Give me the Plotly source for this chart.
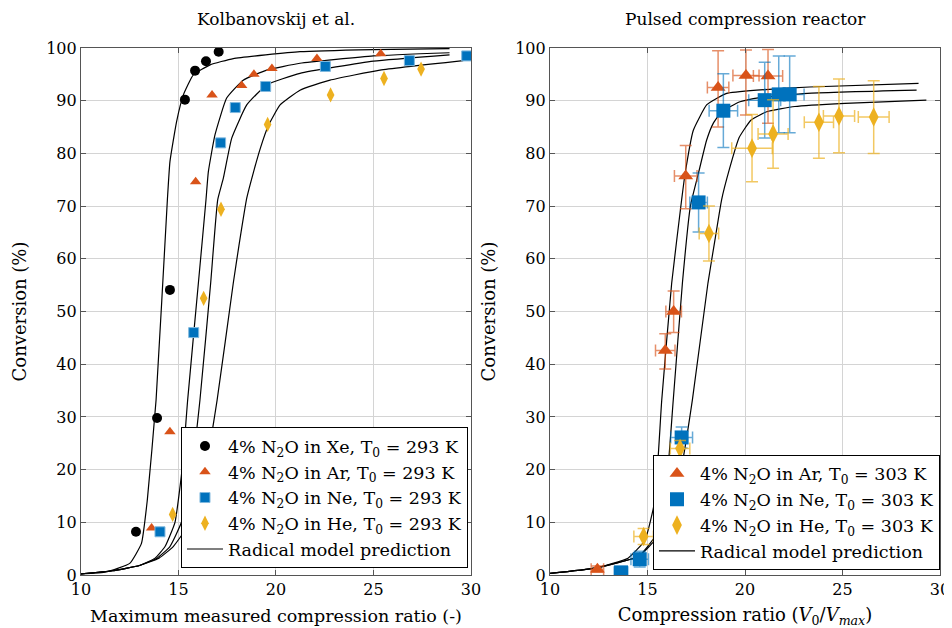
import plotly.graph_objects as go

# ---------------- Left panel: Kolbanovskij et al. ----------------
xe_x = [12.82, 13.9, 14.56, 15.33, 15.85, 16.41, 17.06]
xe_y = [8.2, 29.8, 54.1, 90.2, 95.7, 97.5, 99.3]
ar_x = [13.62, 14.56, 15.88, 16.72, 18.24, 18.87, 19.79, 22.1, 25.37]
ar_y = [8.9, 27.2, 74.6, 91.1, 92.9, 95.0, 96.1, 98.0, 98.9]
ne_x = [14.05, 15.78, 17.16, 17.91, 19.47, 22.53, 26.84, 29.78]
ne_y = [8.2, 46.0, 82.0, 88.7, 92.7, 96.5, 97.6, 98.5]
he_x = [14.7, 16.29, 17.18, 19.57, 22.8, 25.54, 27.44]
he_y = [11.5, 52.5, 69.4, 85.5, 91.1, 94.2, 96.0]

# model curves
m_xe_x = [10, 11.3, 12.5, 13.1, 13.4, 13.85, 14.43, 14.56, 14.9, 15.25, 15.76, 16.62, 17.81, 21.23, 25.0, 28.9]
m_xe_y = [0.2, 0.6, 2.2, 6.0, 14.2, 33.2, 71.2, 78.4, 86.0, 91.1, 94.9, 96.8, 98.0, 99.3, 99.7, 99.9]
m_ar_x = [10, 11.6, 13.0, 13.8, 14.31, 14.82, 15.2, 15.47, 16.02, 16.41, 16.53, 16.87, 17.47, 18.32, 19.52, 21.23, 25.0, 28.9]
m_ar_y = [0.2, 0.8, 1.8, 3.2, 5.4, 10.0, 20.6, 33.2, 55.4, 71.2, 76.5, 83.5, 90.5, 93.9, 95.8, 97.1, 98.5, 99.1]
m_ne_x = [10, 11.6, 13.0, 13.9, 14.56, 15.15, 15.7, 16.1, 16.65, 17.01, 17.3, 17.73, 18.5, 19.52, 21.23, 25.0, 28.9]
m_ne_y = [0.2, 0.8, 1.8, 3.2, 5.4, 10.0, 20.6, 33.2, 55.4, 71.2, 75.3, 82.9, 89.2, 93.0, 95.2, 97.5, 98.7]
m_he_x = [10, 11.6, 13.0, 14.0, 14.73, 15.6, 16.4, 16.98, 17.81, 18.1, 18.5, 18.85, 19.2, 19.6, 20.21, 21.23, 22.77, 25.33, 29.6]
m_he_y = [0.2, 0.8, 1.8, 3.2, 5.4, 10.0, 20.6, 33.2, 55.4, 62.5, 71.5, 76.5, 81.0, 85.2, 89.2, 92.0, 93.9, 95.8, 97.6]

# ---------------- Right panel: pulsed compression reactor ----------------
par_x = [12.43, 15.91, 16.34, 16.96, 18.62, 20.05, 21.18]
par_y = [1.1, 42.6, 50.0, 75.7, 92.5, 94.8, 94.7]
par_xe = [0.32, 0.5, 0.4, 0.58, 0.55, 0.67, 0.75]
par_ye_p = [0.6, 3.2, 3.9, 5.8, 7.0, 4.8, 5.0]
par_ye_m = [0.6, 3.5, 4.0, 6.2, 7.5, 7.5, 9.0]

pne_x = [13.64, 14.6, 16.75, 17.62, 18.89, 21.01, 21.73, 22.29]
pne_y = [0.5, 3.0, 26.1, 70.7, 88.1, 90.1, 91.2, 91.2]
pne_xe = [0.35, 0.45, 0.56, 0.45, 0.73, 0.82, 0.7, 0.74]
pne_ye = [0.6, 1.5, 2.0, 5.6, 7.0, 7.2, 7.3, 7.3]

phe_x = [14.8, 16.67, 18.15, 20.36, 21.44, 23.79, 24.82, 26.6]
phe_y = [7.3, 24.0, 64.8, 81.0, 83.7, 85.9, 87.1, 86.9]
phe_xe = [0.5, 0.5, 0.5, 1.04, 0.77, 0.75, 0.8, 0.79]
phe_ye = [1.5, 1.5, 5.2, 6.4, 6.5, 6.8, 7.0, 6.9]

p_m1_x = [10, 12.3, 14.0, 14.87, 15.38, 15.73, 16.24, 16.75, 16.92, 17.35, 18.03, 18.63, 19.06, 20.6, 23.3, 28.9]
p_m1_y = [0.3, 1.3, 3.2, 6.6, 14.2, 33.2, 55.4, 71.2, 76.0, 84.4, 89.2, 90.6, 91.4, 92.0, 92.6, 93.3]
p_m2_x = [10, 12.3, 14.53, 15.38, 15.9, 16.32, 16.79, 17.2, 17.61, 18.03, 18.37, 18.8, 19.74, 20.77, 23.2, 28.8]
p_m2_y = [0.3, 1.3, 3.5, 7.3, 14.2, 33.2, 55.4, 70.0, 76.2, 82.5, 85.7, 87.9, 89.8, 90.6, 91.4, 92.0]
p_m3_x = [10, 12.3, 14.53, 15.38, 16.24, 16.75, 17.3, 18.1, 18.46, 18.8, 19.2, 19.7, 20.3, 21.11, 22.56, 25.13, 29.3]
p_m3_y = [0.3, 1.3, 3.5, 6.6, 12.3, 20.6, 33.2, 55.4, 63.6, 71.2, 77.0, 83.0, 86.3, 87.9, 88.9, 89.5, 90.1]

x_ticks = [10, 15, 20, 25, 30]
y_ticks = [0, 10, 20, 30, 40, 50, 60, 70, 80, 90, 100]

ORANGE = "#D95319"
BLUE = "#0072BD"
YELLOW = "#EDB120"
FONT = "DejaVu Serif"

fig = go.Figure()

def model(x, y, xa, ya, legend, show):
    fig.add_trace(go.Scatter(x=x, y=y, mode="lines", line=dict(color="black", width=1.2, shape="spline", smoothing=0.4),
                             xaxis=xa, yaxis=ya, legend=legend, showlegend=show,
                             name="Radical model prediction", legendrank=10))

# left models
model(m_xe_x, m_xe_y, "x", "y", "legend", False)
model(m_ar_x, m_ar_y, "x", "y", "legend", False)
model(m_ne_x, m_ne_y, "x", "y", "legend", False)
model(m_he_x, m_he_y, "x", "y", "legend", True)

sub = "4% N<sub>2</sub>O in {}, T<sub>0</sub> = {} K"
fig.add_trace(go.Scatter(x=xe_x, y=xe_y, mode="markers", name=sub.format("Xe", 293),
                         marker=dict(symbol="circle", size=10, color="black"), legendrank=1))
fig.add_trace(go.Scatter(x=ar_x, y=ar_y, mode="markers", name=sub.format("Ar", 293),
                         marker=dict(symbol="triangle-up", size=10, color=ORANGE), legendrank=2))
fig.add_trace(go.Scatter(x=ne_x, y=ne_y, mode="markers", name=sub.format("Ne", 293),
                         marker=dict(symbol="square", size=10, color=BLUE, line=dict(color="#7fb8de", width=1)), legendrank=3))
fig.add_trace(go.Scatter(x=he_x, y=he_y, mode="markers", name=sub.format("He", 293),
                         marker=dict(symbol="diamond-tall", size=11, color=YELLOW), legendrank=4))

# right models
model(p_m1_x, p_m1_y, "x2", "y2", "legend2", False)
model(p_m2_x, p_m2_y, "x2", "y2", "legend2", False)
model(p_m3_x, p_m3_y, "x2", "y2", "legend2", True)

def pts(x, y, xe, yep, yem, name, sym, size, col, ecol, rank):
    fig.add_trace(go.Scatter(
        x=x, y=y, mode="markers", name=name, xaxis="x2", yaxis="y2", legend="legend2", legendrank=rank,
        marker=dict(symbol=sym, size=size, color=col),
        error_x=dict(type="data", array=xe, color=ecol, thickness=1.5, width=6),
        error_y=dict(type="data", array=yep, arrayminus=yem, symmetric=False, color=ecol, thickness=1.5, width=6)))

pts(par_x, par_y, par_xe, par_ye_p, par_ye_m, sub.format("Ar", 303), "triangle-up", 13, ORANGE, "rgba(217,83,25,0.65)", 1)
pts(pne_x, pne_y, pne_xe, pne_ye, pne_ye, sub.format("Ne", 303), "square", 14, BLUE, "rgba(0,114,189,0.6)", 2)
pts(phe_x, phe_y, phe_xe, phe_ye, phe_ye, sub.format("He", 303), "diamond-tall", 14, YELLOW, "rgba(237,177,32,0.7)", 3)

axis_common = dict(showline=True, linecolor="#555", linewidth=1.2, mirror="ticks", ticks="inside", ticklen=5,
                   tickcolor="#555", showgrid=True, gridcolor="#d4d4d4", gridwidth=1, zeroline=False,
                   automargin=False, tickfont=dict(family=FONT, size=16, color="black"))

legend_common = dict(xanchor="right", yanchor="bottom", bgcolor="white", bordercolor="black",
                     borderwidth=1, font=dict(size=17.5, family=FONT, color="black"), tracegroupgap=0,
                     itemwidth=36)

# the page body adds an 8 px margin, so the figure is 8 px smaller than the window
fig.update_layout(
    width=944, height=620,
    margin=dict(l=73, r=12, t=40, b=53, autoexpand=False),
    paper_bgcolor="white", plot_bgcolor="white",
    font=dict(family=FONT, color="black"),
    xaxis=dict(domain=[0, 0.454], range=[10, 30], tickvals=x_ticks, anchor="y",
               title=dict(text="Maximum measured compression ratio (-)", font=dict(size=17.5, family=FONT), standoff=11), **axis_common),
    yaxis=dict(domain=[0, 1], range=[0, 100], tickvals=y_ticks, anchor="x",
               title=dict(text="Conversion (%)", font=dict(size=18, family=FONT), standoff=14), **axis_common),
    xaxis2=dict(domain=[0.546, 1], range=[10, 30], tickvals=x_ticks, anchor="y2",
                title=dict(text="Compression ratio (<i>V</i><sub>0</sub>/<i>V<sub>max</sub></i>)", font=dict(size=18, family=FONT), standoff=10), **axis_common),
    yaxis2=dict(domain=[0, 1], range=[0, 100], tickvals=y_ticks, anchor="x2",
                title=dict(text="Conversion (%)", font=dict(size=18, family=FONT), standoff=14), **axis_common),
    legend=dict(x=0.4505, y=0.013, **legend_common),
    legend2=dict(x=1.0, y=0.01, **legend_common),
    annotations=[
        dict(text="Kolbanovskij et al.", x=0.227, y=1.0, xref="paper", yref="paper", yshift=17, yanchor="bottom",
             xanchor="center", showarrow=False, font=dict(size=17, family=FONT)),
        dict(text="Pulsed compression reactor", x=0.773, y=1.0, xref="paper", yref="paper", yshift=17, yanchor="bottom",
             xanchor="center", showarrow=False, font=dict(size=17, family=FONT)),
    ],
)

fig.write_html("out.html")
